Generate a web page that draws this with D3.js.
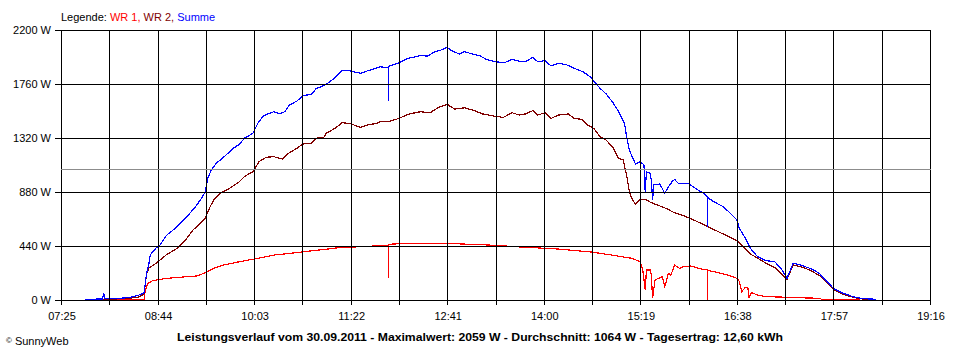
<!DOCTYPE html>
<html><head><meta charset="utf-8">
<script src="https://cdn.jsdelivr.net/npm/d3@7"></script>
<style>
body{margin:0;background:#fff}
svg{display:block}
text{font-family:"Liberation Sans",Arial,sans-serif;font-size:11px;fill:#000}
</style>
</head><body><svg id="c" width="960" height="360"></svg>
<script>
// ---- data ----
const xTickLabels = ["07:25","08:44","10:03","11:22","12:41","14:00","15:19","16:38","17:57","19:16"];
const yTickValues = [0,440,880,1320,1760,2200];
const yTickLabels = ["0 W","440 W","880 W","1320 W","1760 W","2200 W"];
const averageW = 1064;
const seriesNames = ["WR 1","WR 2","Summe"];
const seriesColors = ["#ff0000","#800000","#0000ff"];
const legendLabel = "Legende: ";
const titleText = "Leistungsverlauf vom 30.09.2011 - Maximalwert: 2059 W - Durchschnitt: 1064 W - Tagesertrag: 12,60 kWh";
const copyrightText = "SunnyWeb";

const wr1Time = ["07:55","08:05","08:20","08:33","08:34","08:36","08:40","08:51","09:08","09:16","09:22","09:30","09:38","09:47","09:51","10:02","10:20","10:42","11:01","11:15","11:31","11:46","11:53","11:53","11:53","12:08","12:38","13:08","13:21","13:37","13:45","14:12","14:39","14:55","15:12","15:19","15:21","15:23","15:24","15:27","15:28","15:29","15:31","15:34","15:37","15:39","15:42","15:44","15:45","15:47","15:51","15:54","16:00","16:10","16:14","16:14","16:14","16:19","16:30","16:38","16:40","16:42","16:45","16:47","16:48","16:50","16:55","17:02","17:14","17:30","17:46","17:47","18:19"];
const wr1W = [0,2,3,4,81,136,157,176,190,196,218,258,285,304,312,332,367,391,413,429,434,443,443,177,454,462,462,451,445,434,430,415,391,367,340,312,244,81,244,244,204,14,163,177,190,109,217,200,231,285,258,271,277,250,250,0,240,231,204,177,150,68,104,100,20,60,41,27,24,18,14,6,5];

const wr2Time = ["07:50","08:05","08:21","08:29","08:33","08:35","08:37","08:43","08:51","09:00","09:08","09:13","09:19","09:23","09:27","09:30","09:35","09:43","09:47","09:51","09:55","10:02","10:07","10:13","10:19","10:26","10:31","10:38","10:43","10:50","10:54","11:00","11:02","11:09","11:15","11:21","11:30","11:36","11:43","11:46","11:53","12:00","12:10","12:19","12:27","12:34","12:41","12:47","12:55","13:02","13:10","13:19","13:27","13:34","13:40","13:45","13:51","13:55","14:01","14:06","14:12","14:20","14:25","14:31","14:36","14:41","14:46","14:51","14:57","15:01","15:05","15:08","15:10","15:12","15:15","15:19","15:23","15:28","15:33","15:42","15:44","15:47","15:55","16:06","16:17","16:27","16:38","16:43","16:49","16:54","17:02","17:10","17:19","17:24","17:32","17:39","17:46","17:49","17:57","18:05","18:13","18:21","18:30"];
const wr2W = [2,6,14,25,50,218,260,300,367,421,503,570,624,665,760,815,869,910,937,964,1005,1046,1127,1163,1168,1149,1195,1236,1271,1277,1318,1326,1358,1398,1444,1439,1407,1426,1439,1453,1453,1475,1516,1534,1526,1570,1594,1556,1566,1548,1516,1499,1488,1526,1507,1516,1543,1507,1526,1480,1507,1516,1480,1472,1426,1398,1331,1304,1236,1155,1141,1005,882,828,779,820,820,793,774,739,726,711,684,637,584,537,483,434,375,347,298,258,168,285,266,238,196,165,85,47,22,8,3];

const sumTime = ["07:45","07:57","07:59","08:00","08:01","08:05","08:13","08:21","08:29","08:33","08:35","08:37","08:38","08:40","08:43","08:46","08:51","09:00","09:08","09:15","09:19","09:23","09:25","09:28","09:32","09:38","09:46","09:51","09:55","10:02","10:06","10:10","10:14","10:19","10:24","10:28","10:32","10:38","10:43","10:50","10:54","10:58","11:04","11:09","11:15","11:21","11:30","11:36","11:42","11:46","11:53","11:53","11:53","12:02","12:09","12:19","12:25","12:31","12:36","12:41","12:45","12:51","12:55","13:02","13:08","13:13","13:20","13:28","13:34","13:40","13:45","13:51","13:55","14:01","14:06","14:12","14:19","14:25","14:32","14:38","14:42","14:46","14:51","14:57","15:02","15:06","15:08","15:10","15:15","15:19","15:22","15:23","15:24","15:27","15:28","15:29","15:30","15:35","15:39","15:42","15:45","15:47","15:50","15:58","16:04","16:10","16:14","16:14","16:14","16:19","16:27","16:34","16:38","16:40","16:45","16:47","16:50","16:55","17:02","17:09","17:15","17:19","17:24","17:30","17:40","17:46","17:49","17:57","18:05","18:13","18:21","18:32"];
const sumW = [5,8,8,57,10,10,14,20,41,59,218,299,367,391,426,448,524,597,679,760,815,878,992,1059,1114,1163,1236,1269,1318,1358,1440,1494,1516,1534,1516,1534,1589,1621,1665,1676,1725,1738,1771,1811,1868,1868,1847,1868,1885,1901,1890,1624,1905,1934,1969,1991,1988,2023,2037,2059,2029,2004,2023,2004,1988,1961,1942,1934,1961,1945,1942,1978,1942,1950,1907,1929,1915,1888,1860,1819,1771,1725,1679,1603,1521,1440,1318,1222,1108,1127,1100,882,1045,1032,978,815,937,945,869,923,964,983,951,951,910,874,842,597,835,801,760,693,652,584,503,462,407,353,320,312,244,177,299,285,250,212,177,95,55,27,11,6];

// ---- drawing ----
const toMin = s => { const p = s.split(":").map(Number); return p[0]*60 + p[1]; };
const svg = d3.select("#c");
svg.append("rect").attr("width",960).attr("height",360).attr("fill","#fff");

const x = d3.scaleLinear()
  .domain([toMin(xTickLabels[0]), toMin(xTickLabels[xTickLabels.length-1])])
  .range([61, 930]);
const y = d3.scaleLinear().domain([0, 2200]).range([300, 30]);
const px = v => Math.round(v) + 0.5;

const labelMins = xTickLabels.map(toMin);
const gridMins = [];
labelMins.forEach((m,i) => { gridMins.push(m); if (i < labelMins.length-1) gridMins.push((m + labelMins[i+1]) / 2); });

// data lines
const series = [
  {t: wr1Time, v: wr1W},
  {t: wr2Time, v: wr2W},
  {t: sumTime, v: sumW}
];
const line = d3.line().x(d => x(d[0])).y(d => y(d[1]));
series.forEach((s, i) => {
  const pts = s.t.map((t, j) => [toMin(t), s.v[j]]);
  svg.append("path").attr("d", line(pts)).attr("fill","none")
    .attr("stroke", seriesColors[i]).attr("stroke-width", 1.2)
    .attr("shape-rendering","crispEdges");
});

// grid
const g = svg.append("g").attr("shape-rendering","crispEdges");
gridMins.forEach(m => {
  g.append("line").attr("x1", px(x(m))).attr("x2", px(x(m)))
    .attr("y1", 30).attr("y2", 305).attr("stroke","#000").attr("stroke-width",1);
});
yTickValues.forEach(v => {
  g.append("line").attr("x1", 55).attr("x2", 931)
    .attr("y1", px(y(v))).attr("y2", px(y(v))).attr("stroke","#000").attr("stroke-width",1);
});
g.append("line").attr("x1", 61).attr("x2", 931)
  .attr("y1", px(y(averageW))).attr("y2", px(y(averageW))).attr("stroke","#8c8c8c").attr("stroke-width",1);

yTickValues.forEach((v, i) => {
  svg.append("text").attr("x", 51).attr("y", y(v) + 4).attr("text-anchor","end").text(yTickLabels[i]);
});
xTickLabels.forEach(l => {
  svg.append("text").attr("x", x(toMin(l)) + 1).attr("y", 320).attr("text-anchor","middle").text(l);
});

const leg = svg.append("text").attr("x", 61).attr("y", 21);
leg.append("tspan").text(legendLabel);
seriesNames.forEach((n, i) => {
  leg.append("tspan").style("fill", seriesColors[i])
    .text(n + (i < seriesNames.length-1 ? ", " : ""));
});

svg.append("text").attr("x", 480).attr("y", 341).attr("text-anchor","middle")
  .style("font-weight","bold")
  .attr("textLength", 606).attr("lengthAdjust","spacingAndGlyphs").text(titleText);

const cp = svg.append("text").attr("x", 6).attr("y", 345);
cp.append("tspan").style("font-size","8px").attr("dy",-2).text("©");
cp.append("tspan").attr("dy",2).attr("dx",3).text(copyrightText);
</script>
</body></html>
